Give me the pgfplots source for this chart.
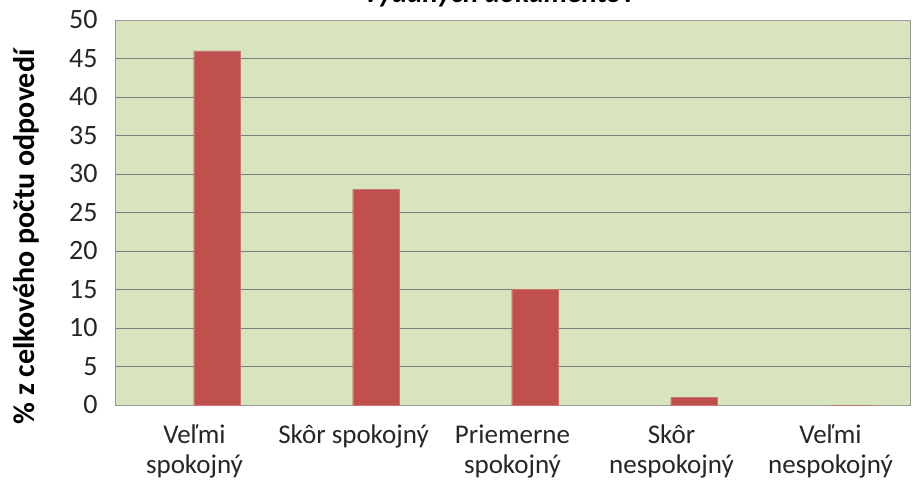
\documentclass[border=0pt]{standalone}
\usepackage{pgfplots}
\pgfplotsset{compat=1.18}
\usepackage{fontspec}
\setmainfont{Carlito}
\definecolor{bg}{HTML}{D7E4BD}
\definecolor{barc}{HTML}{C0504D}
\definecolor{txt}{HTML}{262626}
\begin{document}
\begin{tikzpicture}[x=1pt,y=1pt]
\useasboundingbox (0,0) rectangle (913,485);
\node[anchor=base, font=\fontsize{29}{34}\selectfont\bfseries\itshape, text=black] at (500,482) {vydaných dokumentov};
\begin{axis}[
  at={(115pt,80pt)}, anchor=south west,
  scale only axis, width=795pt, height=385pt,
  xmin=-0.5, xmax=4.5, ymin=0, ymax=50,
  ytick={0,5,...,50},
  xtick={0,1,2,3,4},
  xticklabels={{Veľmi\\spokojný},{Skôr spokojný},{Priemerne\\spokojný},{Skôr\\nespokojný},{Veľmi\\nespokojný}},
  xticklabel style={align=center, font=\fontsize{27}{30}\selectfont, text=txt, yshift=-16pt},
  yticklabel style={font=\fontsize{28}{32}\selectfont, text=txt, xshift=-14pt},
  /pgf/number format/assume math mode=true,
  major tick length=0pt,
  axis background/.style={fill=bg},
  axis line style={draw=gray!80},
  ymajorgrids, grid style={draw=gray, line width=0.8pt},
]
\addplot[ybar, bar width=0.29, fill=barc, draw=barc!80!white, bar shift=0pt] coordinates {(0.14,46) (1.14,28) (2.14,15) (3.14,1) (4.14,0)};
\end{axis}
\node[rotate=90, font=\fontsize{30}{35}\selectfont\bfseries, text=black] at (26,248) {\% z celkového počtu odpovedí};
\end{tikzpicture}
\end{document}
